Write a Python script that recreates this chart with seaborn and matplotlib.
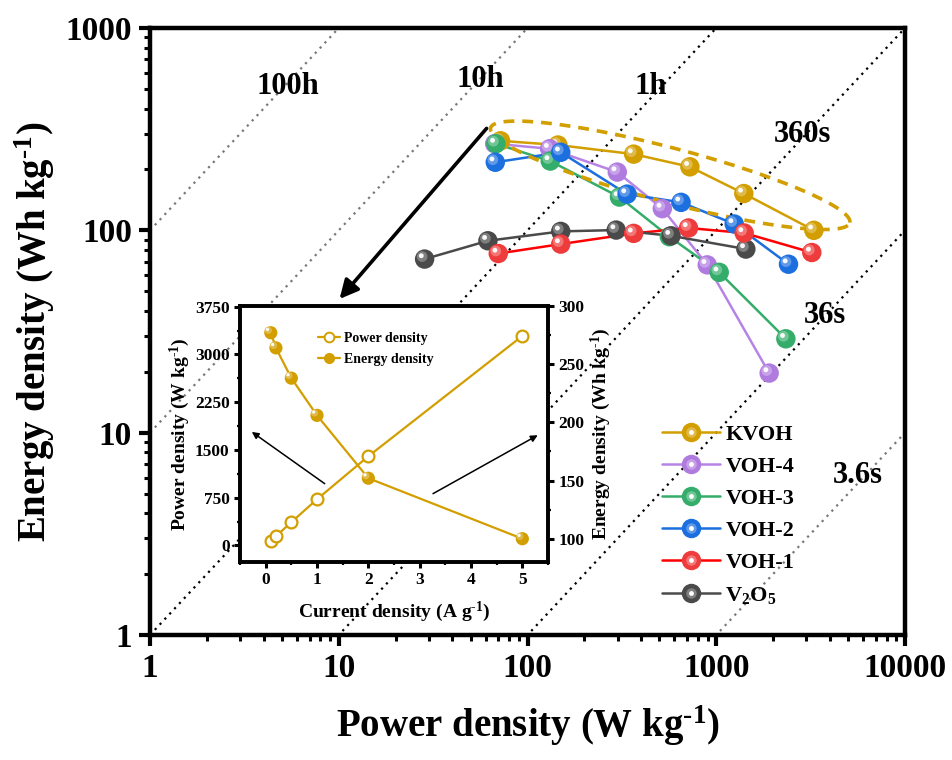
import numpy as np
import pandas as pd
import matplotlib
matplotlib.use("Agg")
import matplotlib.pyplot as plt
import matplotlib.colors as mcolors
from matplotlib.transforms import ScaledTranslation
from matplotlib.lines import Line2D
from matplotlib.legend_handler import HandlerTuple
from matplotlib.ticker import FixedLocator, FixedFormatter, MultipleLocator, NullFormatter, LogLocator
import seaborn as sns

# ---------------- data ----------------
materials = ["KVOH", "VOH-4", "VOH-3", "VOH-2", "VOH-1", "V2O5"]
legend_labels = ["KVOH", "VOH-4", "VOH-3", "VOH-2", "VOH-1", r"V$_\mathbf{2}$O$_\mathbf{5}$"]
colors = ["#D29E00", "#B07BDF", "#35AD6A", "#1C6FDE", "#EE3B3B", "#4A4A4A"]
line_colors = ["#D29E00", "#B784E6", "#35AD6A", "#1C6FDE", "#FF0000", "#4A4A4A"]

# power density (W/kg) and energy density (Wh/kg)
kvoh_p = [72, 145, 365, 725, 1400, 3290]
kvoh_e = [277, 264, 238, 206, 152, 100]
voh4_p = [67, 131, 299, 518, 896, 1907]
voh4_e = [268, 253, 194, 128, 67.5, 19.7]
voh3_p = [68, 132, 307, 564, 1037, 2338]
voh3_e = [268, 220, 146, 93, 62, 29.1]
voh2_p = [67.5, 150, 337, 651, 1245, 2414]
voh2_e = [217, 243, 151, 137.5, 107.5, 68]
voh1_p = [70, 150, 365, 713, 1406, 3208]
voh1_e = [76.8, 85.5, 96.6, 102.7, 97, 77.7]
v2o5_p = [28.5, 61.7, 150, 295, 576, 1435]
v2o5_e = [72.1, 88.8, 98.8, 100.3, 94, 80.8]

series_p = [kvoh_p, voh4_p, voh3_p, voh2_p, voh1_p, v2o5_p]
series_e = [kvoh_e, voh4_e, voh3_e, voh2_e, voh1_e, v2o5_e]

# inset: KVOH rate data
current = [0.1, 0.2, 0.5, 1, 2, 5]
inset_power = kvoh_p
inset_energy = kvoh_e

# constant-time guide lines (hours) and their labels
guide_hours = [100, 10, 1, 0.1, 0.01, 0.001]
guide_labels = ["100h", "10h", "1h", "360s", "36s", "3.6s"]
guide_colors = ["#777777", "#777777", "#000000", "#000000", "#000000", "#777777"]
guide_label_p = [5.37, 56.4, 448, 2851, 3775, 5640]
guide_label_e = [511, 554, 511, 296, 37.8, 6.11]

x_ticks = [1, 10, 100, 1000, 10000]
x_ticklabels = ["1", "10", "100", "1000", "10000"]
y_ticks = [1, 10, 100, 1000]
y_ticklabels = ["1", "10", "100", "1000"]

# ---------------- style ----------------
sns.set_theme(style="ticks")
plt.rcParams["font.family"] = ["Liberation Serif", "DejaVu Serif"]
plt.rcParams["font.weight"] = "bold"
plt.rcParams["axes.labelweight"] = "bold"
plt.rcParams["mathtext.fontset"] = "custom"
plt.rcParams["mathtext.rm"] = "Liberation Serif:bold"
plt.rcParams["mathtext.bf"] = "Liberation Serif:bold"
plt.rcParams["mathtext.it"] = "Liberation Serif:bold"
plt.rcParams["axes.edgecolor"] = "black"
plt.rcParams["axes.labelcolor"] = "black"
plt.rcParams["text.color"] = "black"
plt.rcParams["xtick.color"] = "black"
plt.rcParams["ytick.color"] = "black"
plt.rcParams["xtick.labelcolor"] = "black"
plt.rcParams["ytick.labelcolor"] = "black"

SUP = r"$^{\text{-1}}$"

W, H = 952, 760
fig = plt.figure(figsize=(W / 100, H / 100), dpi=100)
fig.patch.set_facecolor("white")

ax = fig.add_axes([150 / W, 1 - 635 / H, 755 / W, 607 / H])


def lighten(c, f):
    r, g, b = mcolors.to_rgb(c)
    return (r + (1 - r) * f, g + (1 - g) * f, b + (1 - b) * f)


def spheres(axis, x, y, color, size, z):
    """Draw shaded ball markers: base disc plus an offset highlight."""
    axis.scatter(x, y, s=size ** 2, color=color, edgecolors="none", zorder=z)
    off1 = axis.transData + ScaledTranslation(-1.8 / 72, 1.8 / 72, fig.dpi_scale_trans)
    off2 = axis.transData + ScaledTranslation(-2.4 / 72, 2.4 / 72, fig.dpi_scale_trans)
    axis.scatter(x, y, s=(size * 0.55) ** 2, color=lighten(color, 0.35), alpha=0.85,
                 edgecolors="none", zorder=z + 0.1, transform=off1)
    axis.scatter(x, y, s=(size * 0.25) ** 2, color="white", alpha=0.95,
                 edgecolors="none", zorder=z + 0.2, transform=off2)


# series lines
frames = []
for name, p, e in zip(materials, series_p, series_e):
    frames.append(pd.DataFrame({"P": p, "E": e, "material": name}))
df = pd.concat(frames, ignore_index=True)
sns.lineplot(data=df, x="P", y="E", hue="material", hue_order=materials,
             palette=dict(zip(materials, line_colors)), sort=False, estimator=None,
             linewidth=1.8, legend=False, ax=ax, zorder=3)
ax.set_xscale("log")
ax.set_yscale("log")
ax.set_xlim(1, 1e4)
ax.set_ylim(1, 1e3)

# guide lines E = P * t
p_span = np.array([1.0, 1e4])
for hrs, gc in zip(guide_hours, guide_colors):
    ax.plot(p_span, p_span * hrs, linestyle=(0, (1, 2.2)), color=gc, lw=1.6, zorder=1)
for lbl, px, py in zip(guide_labels, guide_label_p, guide_label_e):
    ax.text(px, py, lbl, fontsize=22, fontweight="bold", ha="center", va="center",
            color="black", zorder=2)

# markers (draw order controls overlap)
marker_order = ["KVOH", "VOH-4", "VOH-3", "VOH-2", "V2O5", "VOH-1"]
for k, name in enumerate(marker_order):
    i = materials.index(name)
    spheres(ax, series_p[i], series_e[i], colors[i], 14, 5 + k)

# dashed ellipse (in log space) highlighting KVOH
t = np.linspace(0, 2 * np.pi, 300)
cx, cy, a, b, ang = 2.756, 2.272, 0.98, 0.135, np.deg2rad(-13.8)
ex = cx + a * np.cos(t) * np.cos(ang) - b * np.sin(t) * np.sin(ang)
ey = cy + a * np.cos(t) * np.sin(ang) + b * np.sin(t) * np.cos(ang)
ax.plot(10 ** ex, 10 ** ey, color="#D29E00", lw=2.6, linestyle=(0, (3, 2.2)), zorder=4)

# arrow pointing at the inset
ax.annotate("", xy=(10.1, 45.8), xytext=(60.7, 319),
            arrowprops=dict(arrowstyle="-|>", color="black", lw=2.6, mutation_scale=28,
                            shrinkA=0, shrinkB=0), zorder=12)

# axes styling
for s in ax.spines.values():
    s.set_linewidth(3.2)
ax.xaxis.set_major_locator(FixedLocator(x_ticks))
ax.xaxis.set_major_formatter(FixedFormatter(x_ticklabels))
ax.yaxis.set_major_locator(FixedLocator(y_ticks))
ax.yaxis.set_major_formatter(FixedFormatter(y_ticklabels))
ax.xaxis.set_minor_locator(LogLocator(base=10, subs=np.arange(2, 10)))
ax.yaxis.set_minor_locator(LogLocator(base=10, subs=np.arange(2, 10)))
ax.xaxis.set_minor_formatter(NullFormatter())
ax.yaxis.set_minor_formatter(NullFormatter())
ax.tick_params(which="major", direction="out", length=8, width=3, labelsize=24, pad=5,
               top=False, right=False)
ax.tick_params(which="minor", direction="out", length=4, width=2.2, top=False, right=False)
for lab in ax.get_xticklabels() + ax.get_yticklabels():
    lab.set_fontweight("bold")
ax.set_xlabel("Power density (W kg" + SUP + ")", fontsize=28, fontweight="bold", labelpad=14)
ax.set_ylabel("Energy density (Wh kg" + SUP + ")", fontsize=28, fontweight="bold", labelpad=6)

# main legend with shaded markers
handles = []
for i in range(len(materials)):
    base = Line2D([], [], color=line_colors[i], lw=1.8, marker="o", markersize=14,
                  markerfacecolor=colors[i], markeredgewidth=0)
    mid = Line2D([], [], ls="none", marker="o", markersize=7.5,
                 markerfacecolor=lighten(colors[i], 0.35), markeredgewidth=0, alpha=0.85)
    hi = Line2D([], [], ls="none", marker="o", markersize=3.5,
                markerfacecolor="white", markeredgewidth=0)
    handles.append((base, mid, hi))
leg = fig.legend(handles, legend_labels, handler_map={tuple: HandlerTuple(ndivide=1, pad=0)},
                 loc="upper left", bbox_to_anchor=(662 / W, 1 - 424 / H), frameon=False,
                 fontsize=16, handlelength=2.6, handletextpad=0.25, labelspacing=0.52,
                 borderaxespad=0, borderpad=0)
for txt in leg.get_texts():
    txt.set_fontweight("bold")
    txt.set_color("black")

# ---------------- inset ----------------
gold = "#D29E00"
axi = fig.add_axes([240 / W, 1 - 562 / H, 308 / W, 256 / H])
axi.set_facecolor("white")
axi.set_zorder(20)
axr = axi.twinx()
axr.set_zorder(21)

sns.lineplot(x=current, y=inset_power, ax=axi, color=gold, lw=1.6, marker="o",
             markersize=8.5, markerfacecolor="white", markeredgecolor=gold,
             markeredgewidth=1.6, zorder=3)
sns.lineplot(x=current, y=inset_energy, ax=axr, color=gold, lw=1.6, zorder=3)
spheres(axr, current, inset_energy, gold, 9.5, 5)

axi.set_xlim(-0.5, 5.5)
axi.set_ylim(-260, 3760)
axr.set_ylim(80, 300)
axi.xaxis.set_major_locator(MultipleLocator(1))
axi.xaxis.set_minor_locator(MultipleLocator(0.5))
axi.yaxis.set_major_locator(MultipleLocator(750))
axi.yaxis.set_minor_locator(MultipleLocator(375))
axr.yaxis.set_major_locator(MultipleLocator(50))
axr.yaxis.set_minor_locator(MultipleLocator(25))
for a_ in (axi, axr):
    for s in a_.spines.values():
        s.set_linewidth(2.6)
    a_.tick_params(which="major", direction="out", length=4.5, width=2.2, labelsize=12.5, pad=3)
    a_.tick_params(which="minor", direction="out", length=2.5, width=1.6)
    for lab in a_.get_xticklabels() + a_.get_yticklabels():
        lab.set_fontweight("bold")
axi.tick_params(top=False, right=False)
axr.tick_params(top=False, left=False)

axi.set_xlabel("Current density (A g" + SUP + ")", fontsize=14, fontweight="bold", labelpad=8)
axi.set_ylabel("Power density (W kg" + SUP + ")", fontsize=14, fontweight="bold", labelpad=2)
axr.set_ylabel("Energy density (Wh kg" + SUP + ")", fontsize=14, fontweight="bold", labelpad=3)

# trend arrows in the inset
axi.annotate("", xy=(-0.27, 1783), xytext=(1.15, 970),
             arrowprops=dict(arrowstyle="-|>", color="black", lw=1.1, mutation_scale=10,
                             shrinkA=0, shrinkB=0))
axi.annotate("", xy=(5.3, 1731), xytext=(3.26, 813),
             arrowprops=dict(arrowstyle="-|>", color="black", lw=1.1, mutation_scale=10,
                             shrinkA=0, shrinkB=0))

ih1 = Line2D([], [], color=gold, lw=1.6, marker="o", markersize=7, markerfacecolor="white",
             markeredgecolor=gold, markeredgewidth=1.4)
ih2 = Line2D([], [], color=gold, lw=1.6, marker="o", markersize=8, markerfacecolor=gold,
             markeredgewidth=0)
ileg = axr.legend([ih1, ih2], ["Power density", "Energy density"], loc="upper left",
                  bbox_to_anchor=((318 - 240) / 308, (562 - 332) / 256), frameon=False,
                  fontsize=10, handlelength=1.6, handletextpad=0.3, labelspacing=0.55,
                  borderaxespad=0, borderpad=0)
for txt in ileg.get_texts():
    txt.set_fontweight("bold")
    txt.set_color("black")

fig.savefig("out.png", dpi=100, facecolor="white")
